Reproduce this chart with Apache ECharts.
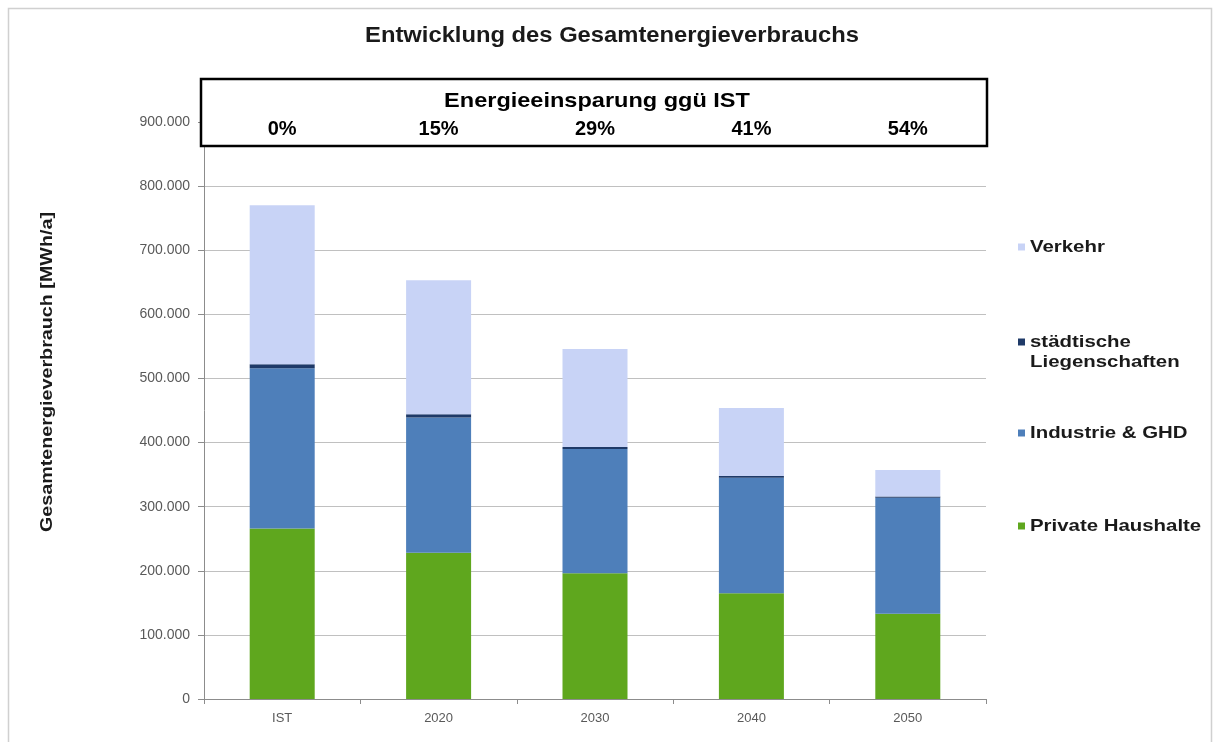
<!DOCTYPE html>
<html>
<head>
<meta charset="utf-8">
<script src="https://cdn.jsdelivr.net/npm/echarts@6/dist/echarts.min.js"></script>
<style>
  html, body { margin: 0; padding: 0; background: #ffffff; }
  #chart { width: 1216px; height: 742px; }
</style>
</head>
<body>
<div id="chart"></div>
<script>
// Jahre / Szenarien
const categories = ['IST', '2020', '2030', '2040', '2050'];

// Verbrauch je Sektor in MWh/a
const privateHaushalte = [266000, 228000, 196000, 165000, 133000];
const industrieGHD = [250000, 211000, 194000, 180000, 181000];
const staedtischeLiegenschaften = [6000, 5000, 3000, 3000, 2000];
const verkehr = [248000, 209000, 153000, 106000, 41000];

// Achsenbeschriftung der Werteachse
const yTicks = [0, 100000, 200000, 300000, 400000, 500000, 600000, 700000, 800000, 900000];

const seriesNames = ['Private Haushalte', 'Industrie & GHD', 'städtische\nLiegenschaften', 'Verkehr'];
const seriesColors = ['#5fa71e', '#4e7fba', '#1f3a68', '#c8d3f6'];

// Gesamtverbrauch und Einsparung gegenüber IST
const totals = categories.map((_, i) =>
  privateHaushalte[i] + industrieGHD[i] + staedtischeLiegenschaften[i] + verkehr[i]);
const savings = totals.map(t => Math.round((1 - t / totals[0]) * 100));

const FONT = '"Liberation Sans", Arial, sans-serif';

function fmtThousands(v) {
  return String(v).replace(/\B(?=(\d{3})+(?!\d))/g, '.');
}

const chart = echarts.init(document.getElementById('chart'), null, { renderer: 'canvas' });

const grid = { left: 204, right: 230, top: 122, bottom: 43, containLabel: false };

// Legende rechts: Symbol + Text, oberste Position = oberste Stapelebene
const legendTops = { 'Verkehr': 247, 'städtische\nLiegenschaften': 342, 'Industrie & GHD': 433, 'Private Haushalte': 526 };
const legendGraphics = [];
seriesNames.forEach((name, i) => {
  const y = legendTops[name];
  legendGraphics.push({
    type: 'rect', z: 100, silent: true,
    shape: { x: 1018, y: y - 3.5, width: 7, height: 7 },
    style: { fill: seriesColors[i] }
  });
  legendGraphics.push({
    type: 'text', z: 100, silent: true,
    x: 1030, y: y - 10, scaleX: 1.2,
    style: {
      text: name, fontFamily: FONT, fontSize: 17, fontWeight: 'bold', fill: '#1a1a1a',
      lineHeight: 20, align: 'left', verticalAlign: 'top'
    }
  });
});

const option = {
  backgroundColor: '#ffffff',
  animation: false,
  grid: grid,
  xAxis: [
    {
      type: 'category',
      data: categories,
      position: 'bottom',
      axisLine: { show: true, lineStyle: { color: '#8c8c8c', width: 1 } },
      axisTick: { show: true, length: 5, lineStyle: { color: '#8c8c8c' } },
      axisLabel: { fontFamily: FONT, fontSize: 13, color: '#595959', margin: 13 }
    },
    {
      type: 'category',
      data: categories,
      position: 'top',
      z: 200,
      axisLine: { show: false },
      axisTick: { show: false },
      axisLabel: {
        fontFamily: FONT, fontSize: 20, fontWeight: 'bold', color: '#000000', margin: -17,
        formatter: (v, idx) => savings[idx] + '%'
      }
    }
  ],
  yAxis: {
    type: 'value',
    min: yTicks[0],
    max: yTicks[yTicks.length - 1],
    interval: yTicks[1] - yTicks[0],
    axisLine: { show: true, lineStyle: { color: '#8c8c8c', width: 1 } },
    axisTick: { show: true, length: 6, lineStyle: { color: '#8c8c8c' } },
    splitLine: { show: true, lineStyle: { color: '#c0c0c0', width: 1 } },
    axisLabel: { fontFamily: FONT, fontSize: 14, color: '#595959', margin: 14, formatter: fmtThousands }
  },
  series: [
    { name: seriesNames[0], data: privateHaushalte },
    { name: seriesNames[1], data: industrieGHD },
    { name: seriesNames[2], data: staedtischeLiegenschaften },
    { name: seriesNames[3], data: verkehr }
  ].map((s, i) => ({
    type: 'bar',
    name: s.name,
    data: s.data,
    stack: 'gesamt',
    barWidth: 65,
    itemStyle: { color: seriesColors[i] },
    emphasis: { disabled: true }
  })),
  graphic: [
    {
      type: 'rect',
      z: 100,
      shape: { x: 8.5, y: 8.5, width: 1203, height: 900 },
      style: { fill: 'none', stroke: '#d0d0d0', lineWidth: 1.5 },
      silent: true
    },
    {
      type: 'text',
      z: 100,
      x: 612, y: 36, scaleX: 1.08,
      style: {
        text: 'Entwicklung des Gesamtenergieverbrauchs',
        fontFamily: FONT, fontSize: 22, fontWeight: 'bold', fill: '#1a1a1a',
        align: 'center', verticalAlign: 'middle'
      }
    },
    {
      type: 'rect',
      z: 100,
      shape: { x: 201, y: 79, width: 786, height: 67 },
      style: { fill: '#ffffff', stroke: '#000000', lineWidth: 2.5 }
    },
    {
      type: 'text',
      z: 101,
      x: 597, y: 101, scaleX: 1.12,
      style: {
        text: 'Energieeinsparung ggü IST',
        fontFamily: FONT, fontSize: 21, fontWeight: 'bold', fill: '#000000',
        align: 'center', verticalAlign: 'middle'
      }
    },
    {
      type: 'text',
      z: 100,
      x: 47, y: 372,
      rotation: Math.PI / 2, scaleX: 1.16,
      style: {
        text: 'Gesamtenergieverbrauch [MWh/a]',
        fontFamily: FONT, fontSize: 17, fontWeight: 'bold', fill: '#1a1a1a',
        align: 'center', verticalAlign: 'middle'
      }
    }
  ].concat(legendGraphics)
};

chart.setOption(option);
</script>
</body>
</html>
